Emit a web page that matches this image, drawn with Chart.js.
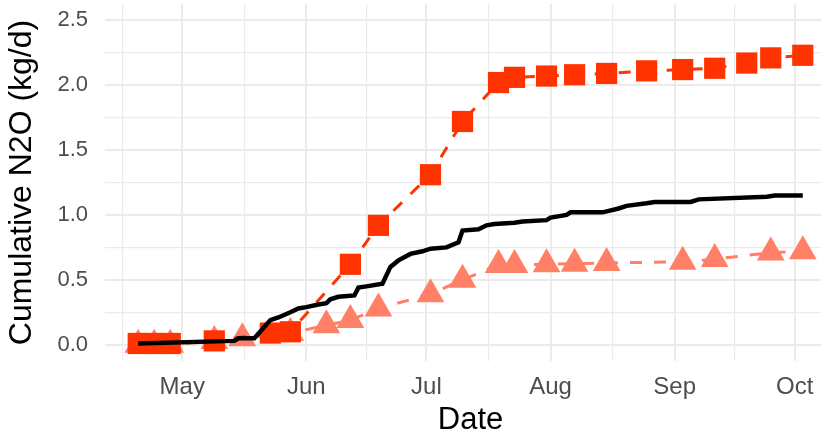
<!DOCTYPE html>
<html>
<head>
<meta charset="utf-8">
<script src="https://cdn.jsdelivr.net/npm/chart.js@4.4.0/dist/chart.umd.min.js"></script>
<style>
    html, body { margin: 0; padding: 0; background: #fff; overflow: hidden; }
    #wrap { width: 821px; height: 438px; overflow: hidden; }
</style>
</head>
<body>
<div id="wrap"><canvas id="myChart" width="836" height="438"></canvas></div>
<script>
// squares (dark orange), dashed
const squareDates = ['2019-04-20', '2019-04-24', '2019-04-28', '2019-05-09', '2019-05-23', '2019-05-28',
    '2019-06-12', '2019-06-19', '2019-07-02', '2019-07-10', '2019-07-19', '2019-07-23', '2019-07-31',
    '2019-08-07', '2019-08-15', '2019-08-25', '2019-09-03', '2019-09-11', '2019-09-19', '2019-09-25', '2019-10-03'];
const squareValues = [0.01, 0.01, 0.01, 0.03, 0.09, 0.10,
    0.62, 0.92, 1.31, 1.72, 2.02, 2.06, 2.07,
    2.08, 2.09, 2.11, 2.12, 2.13, 2.17, 2.21, 2.23];

// triangles (salmon), dashed
const triangleDates = ['2019-04-20', '2019-04-24', '2019-04-28', '2019-05-09', '2019-05-16', '2019-05-28',
    '2019-06-06', '2019-06-12', '2019-06-19', '2019-07-02', '2019-07-10', '2019-07-19', '2019-07-23',
    '2019-07-31', '2019-08-07', '2019-08-15', '2019-09-03', '2019-09-11', '2019-09-25', '2019-10-03'];
const triangleValues = [0.0, 0.0, 0.0, 0.03, 0.05, 0.09,
    0.15, 0.19, 0.28, 0.39, 0.50, 0.615, 0.615,
    0.62, 0.625, 0.63, 0.64, 0.66, 0.71, 0.72];

// black solid line
const lineDates = ['2019-04-20', '2019-05-14', '2019-05-15', '2019-05-19', '2019-05-21', '2019-05-23',
    '2019-05-25', '2019-05-28', '2019-05-30', '2019-06-01', '2019-06-04', '2019-06-06', '2019-06-07',
    '2019-06-09', '2019-06-13', '2019-06-14', '2019-06-16', '2019-06-20', '2019-06-22', '2019-06-24',
    '2019-06-27', '2019-06-30', '2019-07-02', '2019-07-06', '2019-07-09', '2019-07-10', '2019-07-14',
    '2019-07-16', '2019-07-18', '2019-07-23', '2019-07-25', '2019-07-31', '2019-08-01', '2019-08-05',
    '2019-08-06', '2019-08-14', '2019-08-18', '2019-08-20', '2019-08-25', '2019-08-27', '2019-09-05',
    '2019-09-07', '2019-09-24', '2019-09-26', '2019-10-03'];
const lineValues = [0.01, 0.03, 0.05, 0.05, 0.12, 0.19,
    0.21, 0.25, 0.28, 0.29, 0.31, 0.32, 0.35,
    0.37, 0.38, 0.44, 0.45, 0.47, 0.60, 0.65,
    0.70, 0.72, 0.74, 0.75, 0.79, 0.88, 0.89,
    0.92, 0.93, 0.94, 0.95, 0.96, 0.98, 1.00,
    1.02, 1.02, 1.05, 1.07, 1.09, 1.10, 1.10,
    1.12, 1.14, 1.15, 1.15];

const monthStarts = ['2019-04-01', '2019-05-01', '2019-06-01', '2019-07-01', '2019-08-01', '2019-09-01', '2019-10-01', '2019-11-01'];
const monthLabels = ['Apr', 'May', 'Jun', 'Jul', 'Aug', 'Sep', 'Oct', 'Nov'];
const yMajor = [0, 0.5, 1, 1.5, 2, 2.5];
const yMinor = [0.25, 0.75, 1.25, 1.75, 2.25];

const X_MIN = 101.7;
const X_MAX = 284.3;
const GRID = '#EBEBEB';
const TICK_COLOR = '#4D4D4D';

function dayOfYear(s) {
    let d = new Date(s + 'T00:00:00Z');
    return (d - Date.UTC(d.getUTCFullYear(), 0, 1)) / 86400000 + 1;
}

function toPoints(dates, values) {
    return dates.map(function (d, i) {
        return {x: dayOfYear(d), y: values[i]};
    });
}

const monthDays = monthStarts.map(dayOfYear);
let xMinor = [];
for (let i = 0; i < monthDays.length - 1; i++) {
    xMinor.push((monthDays[i] + monthDays[i + 1]) / 2);
}
const xTicks = monthDays.concat(xMinor)
    .filter(function (v) { return v >= X_MIN && v <= X_MAX; })
    .sort(function (a, b) { return a - b; });
const yTicks = yMajor.concat(yMinor).sort(function (a, b) { return a - b; });

Chart.defaults.font.family = '"Liberation Sans", Arial, sans-serif';

const ctx = document.getElementById('myChart');
new Chart(ctx, {
    type: 'line',
    data: {
        datasets: [
            {
                label: 'total',
                data: toPoints(lineDates, lineValues),
                borderColor: '#000000',
                borderWidth: 4.5,
                pointRadius: 0,
                tension: 0,
                fill: false,
                order: 0
            },
            {
                label: 'squares',
                data: toPoints(squareDates, squareValues),
                borderColor: '#FF3300',
                backgroundColor: '#FF3300',
                borderWidth: 3,
                borderDash: [12, 12],
                pointStyle: 'rect',
                pointRadius: 15,
                pointHoverRadius: 15,
                pointBorderWidth: 0,
                pointBackgroundColor: '#FF3300',
                tension: 0,
                fill: false,
                order: 1
            },
            {
                label: 'triangles',
                data: toPoints(triangleDates, triangleValues),
                borderColor: '#FF8066',
                backgroundColor: '#FF8066',
                borderWidth: 3,
                borderDash: [12, 12],
                pointStyle: 'triangle',
                pointRadius: 16,
                pointHoverRadius: 16,
                pointBorderWidth: 0,
                pointBackgroundColor: '#FF8066',
                tension: 0,
                fill: false,
                order: 2
            }
        ]
    },
    options: {
        responsive: false,
        animation: false,
        devicePixelRatio: 1,
        layout: {autoPadding: false, padding: {top: 4, right: 0, bottom: 0, left: 0}},
        plugins: {
            legend: {display: false},
            tooltip: {enabled: false}
        },
        scales: {
            x: {
                type: 'linear',
                min: X_MIN,
                max: X_MAX,
                afterBuildTicks: function (scale) {
                    scale.ticks = xTicks.map(function (v) { return {value: v}; });
                },
                afterFit: function (scale) {
                    scale.height = 77;
                    scale.paddingLeft = 0;
                    scale.paddingRight = 0;
                },
                ticks: {
                    autoSkip: false,
                    maxRotation: 0,
                    padding: 12,
                    color: TICK_COLOR,
                    font: {size: 24},
                    callback: function (v) {
                        let i = monthDays.indexOf(v);
                        return i >= 0 ? monthLabels[i] : '';
                    }
                },
                grid: {
                    color: GRID,
                    drawTicks: false,
                    lineWidth: function (c) {
                        return c.tick && monthDays.indexOf(c.tick.value) >= 0 ? 2 : 1.2;
                    }
                },
                border: {display: false},
                title: {
                    display: true,
                    text: 'Date',
                    color: '#000000',
                    font: {size: 31, lineHeight: 1},
                    padding: {top: 0, bottom: 2}
                }
            },
            y: {
                type: 'linear',
                min: -0.125,
                max: 2.625,
                afterBuildTicks: function (scale) {
                    scale.ticks = yTicks.map(function (v) { return {value: v}; });
                },
                afterFit: function (scale) {
                    scale.width = 105;
                    scale.paddingTop = 0;
                    scale.paddingBottom = 0;
                },
                ticks: {
                    padding: 17,
                    color: TICK_COLOR,
                    font: {size: 22},
                    callback: function (v) {
                        return yMajor.indexOf(v) >= 0 ? v.toFixed(1) : '';
                    }
                },
                grid: {
                    color: GRID,
                    drawTicks: false,
                    lineWidth: function (c) {
                        return c.tick && yMajor.indexOf(c.tick.value) >= 0 ? 2 : 1.2;
                    }
                },
                border: {display: false},
                title: {
                    display: true,
                    text: 'Cumulative N2O (kg/d)',
                    color: '#000000',
                    font: {size: 32},
                    padding: {top: 3, bottom: 0}
                }
            }
        }
    }
});
</script>
</body>
</html>
